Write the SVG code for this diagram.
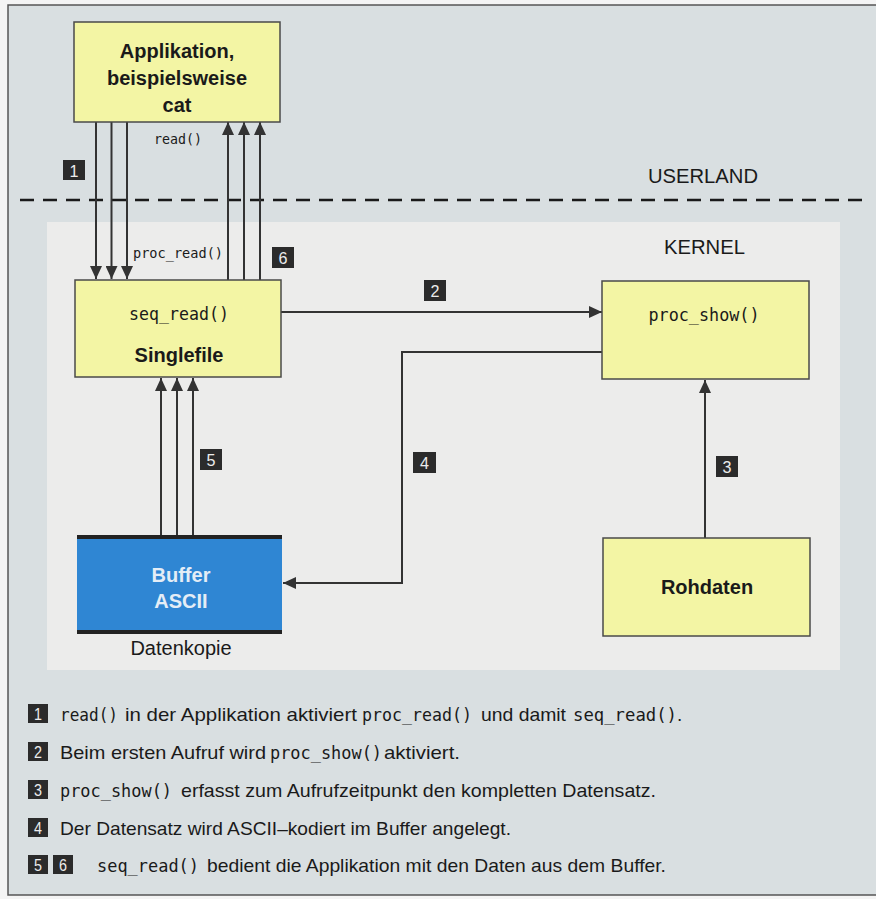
<svg xmlns="http://www.w3.org/2000/svg" width="876" height="899" viewBox="0 0 876 899">
  <style>
    .box { fill: #f3f5a4; stroke: #4a4a4a; stroke-width: 1.5; }
    .lbl { font-family: "Liberation Sans", Arial, sans-serif; font-weight: bold; font-size: 20px; fill: #1a1a1a; text-anchor: middle; }
    .reg { font-family: "Liberation Sans", Arial, sans-serif; font-size: 20px; fill: #1a1a1a; }
    .mono { font-family: "DejaVu Sans Mono", "Liberation Mono", monospace; fill: #1a1a1a; }
    .conn { fill: none; stroke: #333333; stroke-width: 2; }
    .badge rect { fill: #2b2b2b; }
    .badge text { font-family: "Liberation Sans", Arial, sans-serif; font-size: 17px; fill: #ececec; text-anchor: middle; }
    .leg { font-family: "Liberation Sans", Arial, sans-serif; font-size: 19px; fill: #1a1a1a; }
    .legm { font-family: "DejaVu Sans Mono", "Liberation Mono", monospace; font-size: 17px; fill: #1a1a1a; }
  </style>
  <defs>
    <marker id="ah" viewBox="0 0 13 12" refX="13" refY="6" markerWidth="13" markerHeight="12" markerUnits="userSpaceOnUse" orient="auto">
      <path d="M0,0 L13,6 L0,12 Z" fill="#333333"/>
    </marker>
  </defs>

  <!-- page & panel -->
  <rect x="0" y="0" width="876" height="899" fill="#f4f4f4"/>
  <rect x="8" y="5" width="880" height="890" fill="#d9dfe1" stroke="#555555" stroke-width="1.5"/>
  <rect id="kernel-area" x="47" y="222" width="793" height="448" fill="#ececeb"/>

  <!-- region labels -->
  <line x1="20" y1="200" x2="868" y2="200" stroke="#1a1a1a" stroke-width="2.5" stroke-dasharray="14 9"/>
  <text class="reg" x="648" y="183" textLength="110" lengthAdjust="spacingAndGlyphs">USERLAND</text>
  <text class="reg" x="664" y="254" textLength="81" lengthAdjust="spacingAndGlyphs">KERNEL</text>

  <!-- connectors -->
  <g id="connectors">
    <line class="conn" x1="96" y1="122" x2="96" y2="279" marker-end="url(#ah)"/>
    <line class="conn" x1="111.5" y1="122" x2="111.5" y2="279" marker-end="url(#ah)"/>
    <line class="conn" x1="127" y1="122" x2="127" y2="279" marker-end="url(#ah)"/>
    <line class="conn" x1="228" y1="280" x2="228" y2="122" marker-end="url(#ah)"/>
    <line class="conn" x1="244" y1="280" x2="244" y2="122" marker-end="url(#ah)"/>
    <line class="conn" x1="260" y1="280" x2="260" y2="122" marker-end="url(#ah)"/>
    <line class="conn" x1="281" y1="312" x2="602" y2="312" marker-end="url(#ah)"/>
    <polyline class="conn" points="602,352 402,352 402,583 283,583" marker-end="url(#ah)"/>
    <line class="conn" x1="705" y1="538" x2="705" y2="380" marker-end="url(#ah)"/>
    <line class="conn" x1="161" y1="535" x2="161" y2="378" marker-end="url(#ah)"/>
    <line class="conn" x1="177" y1="535" x2="177" y2="378" marker-end="url(#ah)"/>
    <line class="conn" x1="193" y1="535" x2="193" y2="378" marker-end="url(#ah)"/>
    <text class="mono" x="154" y="144" font-size="14" textLength="48" lengthAdjust="spacingAndGlyphs">read()</text>
    <text class="mono" x="133" y="258" font-size="14" textLength="90" lengthAdjust="spacingAndGlyphs">proc_read()</text>
  </g>

  <!-- step badges -->
  <g id="badge-1" class="badge"><rect x="63" y="160" width="22" height="20"/><text x="74" y="176.5" textLength="9" lengthAdjust="spacingAndGlyphs">1</text></g>
  <g id="badge-6" class="badge"><rect x="272" y="247" width="22" height="21"/><text x="283" y="264" textLength="9" lengthAdjust="spacingAndGlyphs">6</text></g>
  <g id="badge-2" class="badge"><rect x="424" y="280" width="22" height="21"/><text x="435" y="297" textLength="9" lengthAdjust="spacingAndGlyphs">2</text></g>
  <g id="badge-5" class="badge"><rect x="200" y="449" width="22" height="21"/><text x="211" y="466" textLength="9" lengthAdjust="spacingAndGlyphs">5</text></g>
  <g id="badge-4" class="badge"><rect x="413" y="452" width="23" height="21"/><text x="424.5" y="469" textLength="9" lengthAdjust="spacingAndGlyphs">4</text></g>
  <g id="badge-3" class="badge"><rect x="716" y="456" width="22" height="21"/><text x="727" y="473" textLength="9" lengthAdjust="spacingAndGlyphs">3</text></g>

  <!-- nodes -->
  <g id="app">
    <rect class="box" x="74" y="22" width="206" height="100"/>
    <text class="lbl" x="177" y="58">Applikation,</text>
    <text class="lbl" x="177" y="85">beispielsweise</text>
    <text class="lbl" x="177" y="112">cat</text>
  </g>
  <g id="singlefile">
    <rect class="box" x="75" y="280" width="206" height="97"/>
    <text class="mono" x="179" y="320" font-size="17" text-anchor="middle" textLength="100" lengthAdjust="spacingAndGlyphs">seq_read()</text>
    <text class="lbl" x="179" y="362">Singlefile</text>
  </g>
  <g id="proc_show">
    <rect class="box" x="602" y="281" width="207" height="98"/>
    <text class="mono" x="704" y="321" font-size="17" text-anchor="middle" textLength="111" lengthAdjust="spacingAndGlyphs">proc_show()</text>
  </g>
  <g id="rohdaten">
    <rect class="box" x="603" y="538" width="207" height="98"/>
    <text class="lbl" x="707" y="594">Rohdaten</text>
  </g>
  <g id="buffer">
    <rect x="77" y="537" width="205" height="96" fill="#2f86d3"/>
    <rect x="77" y="535" width="205" height="4" fill="#222222"/>
    <rect x="77" y="630" width="205" height="4" fill="#222222"/>
    <text class="lbl" x="181" y="582" style="fill:#e4edf6">Buffer</text>
    <text class="lbl" x="181" y="608" style="fill:#e4edf6">ASCII</text>
    <text class="reg" x="181" y="655" text-anchor="middle" font-size="19">Datenkopie</text>
  </g>

  <!-- legend -->
  <g id="legend-1">
    <g class="badge"><rect x="28" y="704" width="20" height="19"/><text x="38" y="720" textLength="8" lengthAdjust="spacingAndGlyphs">1</text></g>
    <text class="legm" x="60" y="721" textLength="58" lengthAdjust="spacingAndGlyphs">read()</text>
    <text class="leg" x="125" y="721" textLength="232" lengthAdjust="spacingAndGlyphs">in der Applikation aktiviert</text>
    <text class="legm" x="362" y="721" textLength="110" lengthAdjust="spacingAndGlyphs">proc_read()</text>
    <text class="leg" x="481" y="721" textLength="85" lengthAdjust="spacingAndGlyphs">und damit</text>
    <text class="legm" x="573" y="721" textLength="104" lengthAdjust="spacingAndGlyphs">seq_read()</text>
    <text class="leg" x="677" y="721">.</text>
  </g>
  <g id="legend-2">
    <g class="badge"><rect x="28" y="742" width="20" height="19"/><text x="38" y="758" textLength="8" lengthAdjust="spacingAndGlyphs">2</text></g>
    <text class="leg" x="60" y="759" textLength="206" lengthAdjust="spacingAndGlyphs">Beim ersten Aufruf wird</text>
    <text class="legm" x="270" y="759" textLength="112" lengthAdjust="spacingAndGlyphs">proc_show()</text>
    <text class="leg" x="384" y="759" textLength="76" lengthAdjust="spacingAndGlyphs">aktiviert.</text>
  </g>
  <g id="legend-3">
    <g class="badge"><rect x="28" y="780" width="20" height="19"/><text x="38" y="796" textLength="8" lengthAdjust="spacingAndGlyphs">3</text></g>
    <text class="legm" x="60" y="797" textLength="112" lengthAdjust="spacingAndGlyphs">proc_show()</text>
    <text class="leg" x="181" y="797" textLength="475" lengthAdjust="spacingAndGlyphs">erfasst zum Aufrufzeitpunkt den kompletten Datensatz.</text>
  </g>
  <g id="legend-4">
    <g class="badge"><rect x="28" y="818" width="20" height="19"/><text x="38" y="834" textLength="8" lengthAdjust="spacingAndGlyphs">4</text></g>
    <text class="leg" x="60" y="835" textLength="451" lengthAdjust="spacingAndGlyphs">Der Datensatz wird ASCII–kodiert im Buffer angelegt.</text>
  </g>
  <g id="legend-5">
    <g class="badge"><rect x="28" y="855" width="20" height="19"/><text x="38" y="871" textLength="8" lengthAdjust="spacingAndGlyphs">5</text></g>
    <g class="badge"><rect x="53" y="855" width="20" height="19"/><text x="63" y="871" textLength="8" lengthAdjust="spacingAndGlyphs">6</text></g>
    <text class="legm" x="97" y="872" textLength="102" lengthAdjust="spacingAndGlyphs">seq_read()</text>
    <text class="leg" x="207" y="872" textLength="459" lengthAdjust="spacingAndGlyphs">bedient die Applikation mit den Daten aus dem Buffer.</text>
  </g>
</svg>
